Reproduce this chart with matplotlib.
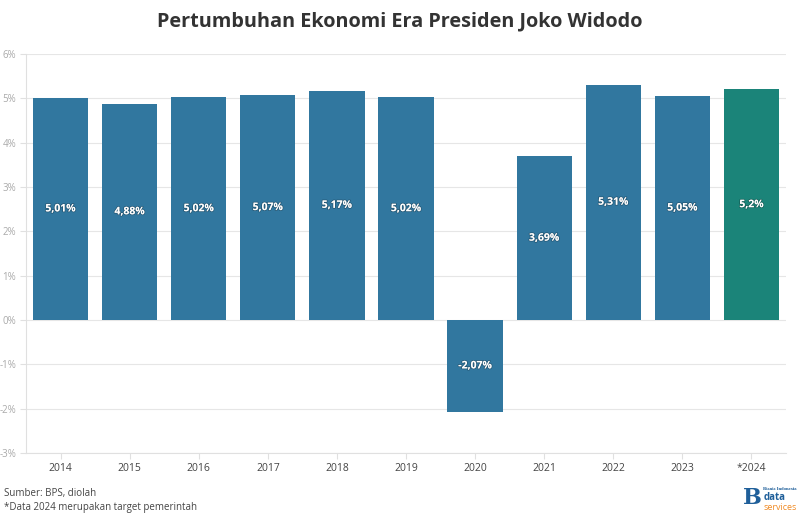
import numpy as np
import matplotlib.pyplot as plt
import matplotlib.patheffects as pe

plt.rcParams['font.family'] = ['Open Sans', 'DejaVu Sans']

years = ['2014', '2015', '2016', '2017', '2018', '2019', '2020', '2021',
         '2022', '2023', '*2024']
growth = [5.01, 4.88, 5.02, 5.07, 5.17, 5.02, -2.07, 3.69, 5.31, 5.05, 5.2]
labels = ['5,01%', '4,88%', '5,02%', '5,07%', '5,17%', '5,02%', '-2,07%',
          '3,69%', '5,31%', '5,05%', '5,2%']
yticks = [-3, -2, -1, 0, 1, 2, 3, 4, 5, 6]

blue = '#31779f'
green = '#1b8479'
colors = [blue] * 10 + [green]

fig = plt.figure(figsize=(8, 5.21), dpi=100)
ax = fig.add_axes([0.0325, 0.1305, 0.95, 0.766])

x = np.arange(len(years))
ax.bar(x, growth, width=0.8, color=colors, zorder=2)

for xi, v, lab in zip(x, growth, labels):
    ax.text(xi, v / 2, lab, ha='center', va='center', color='white',
            fontsize=7.5, fontweight='bold', zorder=3,
            path_effects=[pe.withStroke(linewidth=1.2, foreground='#00000040')])

ax.set_xlim(-0.5, len(years) - 0.5)
ax.set_ylim(-3, 6)
ax.set_yticks(yticks)
ax.set_yticklabels(['%d%%' % t for t in yticks], fontsize=7, color='#aaaaaa')
ax.set_xticks(x)
ax.set_xticklabels(years, fontsize=7.5, color='#444444')
ax.grid(axis='y', color='#e6e6e6', linewidth=0.8, zorder=0)
for s in ['top', 'right']:
    ax.spines[s].set_visible(False)
ax.spines['left'].set_color('#e0e0e0')
ax.spines['bottom'].set_color('#e0e0e0')
ax.tick_params(axis='both', length=4, color='#e0e0e0', pad=3)

fig.text(0.5, 0.958, 'Pertumbuhan Ekonomi Era Presiden Joko Widodo',
         ha='center', va='center', fontsize=14.3, fontweight='bold',
         color='#333333')
fig.text(0.005, 0.052, 'Sumber: BPS, diolah', fontsize=7, color='#444444',
         va='center')
fig.text(0.005, 0.025, '*Data 2024 merupakan target pemerintah', fontsize=7,
         color='#444444', va='center')

# logo
fig.text(0.94, 0.045, 'B', fontsize=16, fontweight='bold', color='#1f5f9a',
         family='DejaVu Serif', ha='center', va='center')
fig.text(0.954, 0.061, 'Bisnis Indonesia', fontsize=2.6, color='#1f5f9a',
         va='center', family='DejaVu Serif', fontweight='bold')
fig.text(0.954, 0.045, 'data', fontsize=7, color='#1f5f9a', va='center',
         fontweight='bold')
fig.text(0.954, 0.026, 'services', fontsize=6.5, color='#f08a24', va='center')

fig.savefig('out.png', dpi=100)
